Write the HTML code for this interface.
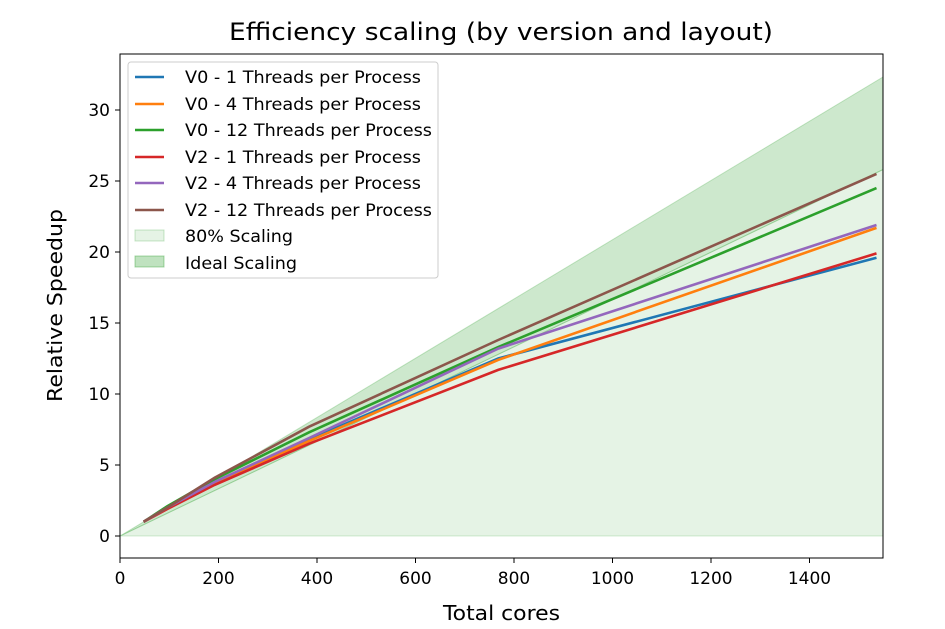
<!DOCTYPE html>
<html><head><meta charset="utf-8"><style>body{margin:0;background:#fff}svg{display:block}text{font-family:"DejaVu Sans","Liberation Sans",sans-serif;fill:#000}</style></head><body>
<svg width="945" height="629" viewBox="0 0 945 629">
<polygon points="120,536 883,536 883,169.6" fill="#2ca02c" fill-opacity="0.12" stroke="#2ca02c" stroke-opacity="0.2"/>
<polygon points="120,536 883,77 883,169.6" fill="#2ca02c" fill-opacity="0.24" stroke="#2ca02c" stroke-opacity="0.25"/>
<g fill="none" stroke-width="2.6">
<polyline stroke="#1f77b4" points="143.6,521.8 167.3,507.6 214.6,482 309.1,439.4 498.2,358.5 876.5,257.7"/>
<polyline stroke="#ff7f0e" points="143.6,521.8 167.3,507.6 214.6,483.5 309.1,440.9 498.2,359.9 876.5,227.9"/>
<polyline stroke="#2ca02c" points="143.6,521.8 167.3,506.2 214.6,479.2 309.1,432.3 498.2,347.1 876.5,188.1"/>
<polyline stroke="#d62728" points="143.6,521.8 167.3,509 214.6,484.9 309.1,443.7 498.2,369.9 876.5,253.4"/>
<polyline stroke="#9467bd" points="143.6,521.8 167.3,507.6 214.6,482 309.1,438 498.2,348.6 876.5,225"/>
<polyline stroke="#8c564b" points="143.6,521.8 167.3,507.6 214.6,477.8 309.1,426.7 498.2,340 876.5,173.9"/>
</g>
<rect x="120" y="54" width="763" height="504" fill="none" stroke="#000" stroke-width="1"/>
<g stroke="#000">
<line x1="120" y1="558" x2="120" y2="563"/><line x1="218.5" y1="558" x2="218.5" y2="563"/><line x1="317" y1="558" x2="317" y2="563"/><line x1="415.5" y1="558" x2="415.5" y2="563"/><line x1="514" y1="558" x2="514" y2="563"/><line x1="612.5" y1="558" x2="612.5" y2="563"/><line x1="711" y1="558" x2="711" y2="563"/><line x1="809.5" y1="558" x2="809.5" y2="563"/>
<line x1="115" y1="536" x2="120" y2="536"/><line x1="115" y1="465" x2="120" y2="465"/><line x1="115" y1="394" x2="120" y2="394"/><line x1="115" y1="323" x2="120" y2="323"/><line x1="115" y1="252" x2="120" y2="252"/><line x1="115" y1="181" x2="120" y2="181"/><line x1="115" y1="110" x2="120" y2="110"/>
</g>
<g font-size="17" text-anchor="middle">
<text x="120" y="584">0</text><text x="218.5" y="584">200</text><text x="317" y="584">400</text><text x="415.5" y="584">600</text><text x="514" y="584">800</text><text x="612.5" y="584">1000</text><text x="711" y="584">1200</text><text x="809.5" y="584">1400</text>
</g>
<g font-size="17" text-anchor="end">
<text x="110" y="542">0</text><text x="110" y="471">5</text><text x="110" y="400">10</text><text x="110" y="329">15</text><text x="110" y="258">20</text><text x="110" y="187">25</text><text x="110" y="116">30</text>
</g>
<text x="443" y="620" font-size="20" textLength="117" lengthAdjust="spacingAndGlyphs">Total cores</text>
<text transform="translate(62,402) rotate(-90)" font-size="20" textLength="193" lengthAdjust="spacingAndGlyphs">Relative Speedup</text>
<text x="229" y="40" font-size="24" textLength="544" lengthAdjust="spacingAndGlyphs">Efficiency scaling (by version and layout)</text>
<rect x="128" y="62" width="310" height="216" rx="3" fill="#fff" fill-opacity="0.8" stroke="#ccc"/>
<g stroke-width="2.6">
<line x1="135" y1="77" x2="164" y2="77" stroke="#1f77b4"/>
<line x1="135" y1="104" x2="164" y2="104" stroke="#ff7f0e"/>
<line x1="135" y1="130" x2="164" y2="130" stroke="#2ca02c"/>
<line x1="135" y1="157" x2="164" y2="157" stroke="#d62728"/>
<line x1="135" y1="183" x2="164" y2="183" stroke="#9467bd"/>
<line x1="135" y1="210" x2="164" y2="210" stroke="#8c564b"/>
</g>
<rect x="135" y="230" width="29" height="11" fill="#2ca02c" fill-opacity="0.12" stroke="#2ca02c" stroke-opacity="0.25"/>
<rect x="135" y="256" width="29" height="11" fill="#2ca02c" fill-opacity="0.3" stroke="#2ca02c" stroke-opacity="0.4"/>
<g font-size="17" lengthAdjust="spacingAndGlyphs">
<text x="185" y="83" textLength="236" lengthAdjust="spacingAndGlyphs">V0 - 1 Threads per Process</text>
<text x="185" y="110" textLength="236" lengthAdjust="spacingAndGlyphs">V0 - 4 Threads per Process</text>
<text x="185" y="136" textLength="247" lengthAdjust="spacingAndGlyphs">V0 - 12 Threads per Process</text>
<text x="185" y="163" textLength="236" lengthAdjust="spacingAndGlyphs">V2 - 1 Threads per Process</text>
<text x="185" y="189" textLength="236" lengthAdjust="spacingAndGlyphs">V2 - 4 Threads per Process</text>
<text x="185" y="216" textLength="247" lengthAdjust="spacingAndGlyphs">V2 - 12 Threads per Process</text>
<text x="185" y="242" textLength="108" lengthAdjust="spacingAndGlyphs">80% Scaling</text>
<text x="185" y="269" textLength="112" lengthAdjust="spacingAndGlyphs">Ideal Scaling</text>
</g>
</svg>
</body></html>
